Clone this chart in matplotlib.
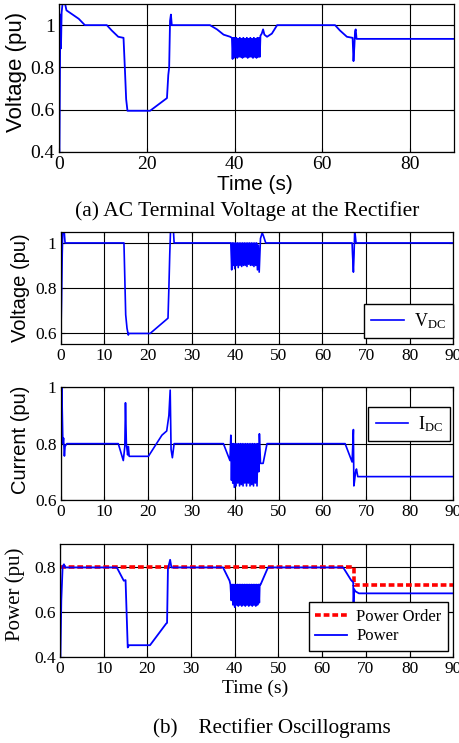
import matplotlib
matplotlib.use("Agg")
import matplotlib.pyplot as plt

plt.rcParams['mathtext.fontset'] = 'custom'
plt.rcParams['mathtext.rm'] = 'Liberation Serif'
plt.rcParams['mathtext.it'] = 'Liberation Serif:italic'

SERIF = 'Liberation Serif'
SANS = 'Liberation Sans'

# ---------------- (a) AC terminal voltage ----------------
ac_t = [0, 0.1, 0.3, 0.45, 0.6, 0.8, 1.0, 1.4, 1.7, 4.5, 5.9, 10.9, 12.0, 13.5, 14.7, 15.0, 15.3, 15.6,
        20.75, 24.6, 24.9, 25.1, 25.3, 25.5, 25.7, 26.1, 34.4, 36.0, 37.5, 39.0,
        39.4, 39.55, 39.7, 39.85, 40.0, 40.2, 40.4, 40.6, 40.8, 41.0, 41.2, 41.4, 41.6, 41.8,
        42.0, 42.2, 42.4, 42.6, 42.8, 43.0, 43.2, 43.4, 43.6, 43.8, 44.0, 44.2, 44.4, 44.6,
        44.8, 45.0, 45.2, 45.4, 45.6, 45.75,
        45.9, 46.2, 46.5, 46.8, 47.4, 48.5, 49.7, 62.9, 64.0, 65.6, 66.9, 67.1, 67.3, 67.45,
        67.6, 67.8, 68.2, 90]
ac_v = [0.4, 0.4, 1.05, 0.89, 1.06, 1.1, 1.1, 1.1, 1.07, 1.03, 1.0, 1.0, 0.975, 0.945, 0.94, 0.8, 0.65, 0.595,
        0.595, 0.655, 0.764, 0.8, 1.02, 1.05, 1.0, 1.0, 1.0, 0.98, 0.955, 0.945,
        0.94, 0.84, 0.94, 0.845, 0.94, 0.85, 0.94, 0.845, 0.935, 0.85, 0.94, 0.85, 0.935, 0.845,
        0.94, 0.85, 0.935, 0.85, 0.94, 0.845, 0.935, 0.85, 0.94, 0.85, 0.935, 0.845, 0.94, 0.85,
        0.935, 0.845, 0.94, 0.85, 0.94, 0.85,
        0.95, 0.96, 0.98, 0.955, 0.945, 0.96, 1.0, 1.0, 0.975, 0.945, 0.94, 0.83, 0.9, 0.97,
        0.98, 0.935, 0.935, 0.935]

# ---------------- (b) DC voltage ----------------
vdc_t = [0, 0.2, 0.35, 0.5, 0.7, 1.0, 14.5, 14.9, 15.2, 15.5, 15.6, 20.5, 24.3, 24.6, 24.8, 25.0, 25.2,
         25.8, 26.0, 39.0,
         39.2, 39.35, 39.5, 39.7, 39.9, 40.1, 40.3, 40.5, 40.7, 40.9, 41.1, 41.3, 41.5, 41.7, 41.9,
         42.1, 42.3, 42.5, 42.7, 42.9, 43.1, 43.3, 43.5, 43.7, 43.9, 44.1, 44.3, 44.5, 44.7, 44.9,
         45.1, 45.3,
         45.5, 45.8, 46.2, 46.5, 47.0, 66.8, 66.9, 67.1, 67.25, 67.4, 67.7, 90]
vdc_v = [0.55, 0.75, 0.95, 1.07, 1.08, 1.0, 1.0, 0.68, 0.62, 0.59, 0.597, 0.597, 0.66, 0.665, 0.8, 0.95, 1.07,
         1.07, 1.0, 1.0,
         0.88, 1.0, 0.9, 1.0, 0.885, 1.0, 0.9, 1.0, 0.89, 1.0, 0.9, 1.0, 0.895, 1.0, 0.9,
         1.0, 0.9, 1.0, 0.895, 1.0, 0.905, 1.0, 0.9, 1.0, 0.9, 1.0, 0.895, 1.0, 0.9, 1.0,
         0.88, 0.99,
         0.87, 1.02, 1.045, 1.03, 1.0, 1.0, 0.95, 0.87, 0.95, 1.06, 1.0, 1.0]

# ---------------- (b) DC current ----------------
idc_t = [0, 0.1, 0.25, 0.5, 0.65, 0.85, 1.0, 1.4, 13.2, 14.35, 14.7, 14.85, 15.05, 15.35, 15.5, 15.7,
         20.1, 23.2, 24.3, 24.8, 25.1, 25.3, 25.6, 26.0, 37.3, 38.8,
         39.0, 39.15, 39.3, 39.45, 39.6, 39.8, 40.0, 40.2, 40.4, 40.6, 40.8, 41.0, 41.2, 41.4,
         41.6, 41.8, 42.0, 42.2, 42.4, 42.6, 42.8, 43.0, 43.2, 43.4, 43.6, 43.8, 44.0, 44.2,
         44.4, 44.6, 44.8, 45.0, 45.2, 45.4, 45.55,
         45.8, 46.4, 47.3, 65.2, 66.8, 67.1, 67.2, 67.3, 67.6, 67.8, 68.1, 90]
idc_v = [0.6, 0.9, 1.0, 0.8, 0.82, 0.756, 0.79, 0.8, 0.8, 0.74, 0.79, 0.945, 0.8, 0.76, 0.79, 0.755,
         0.755, 0.83, 0.845, 0.9, 0.99, 0.78, 0.75, 0.8, 0.8, 0.74,
         0.83, 0.67, 0.8, 0.66, 0.8, 0.645, 0.8, 0.65, 0.8, 0.66, 0.8, 0.65, 0.8, 0.655,
         0.8, 0.65, 0.8, 0.66, 0.8, 0.65, 0.8, 0.66, 0.8, 0.65, 0.8, 0.655, 0.8, 0.65,
         0.8, 0.66, 0.8, 0.65, 0.8, 0.7, 0.835,
         0.73, 0.73, 0.8, 0.8, 0.735, 0.85, 0.65, 0.66, 0.7, 0.71, 0.683, 0.683]

# ---------------- (b) Power ----------------
order_t = [0, 67.3, 67.3, 90]
order_v = [0.8, 0.8, 0.72, 0.72]

pw_t = [0, 0.1, 0.3, 0.6, 0.9, 1.2, 13.0, 14.6, 15.0, 15.5, 15.8, 20.6, 24.3, 24.5, 24.7, 25.2, 25.5,
        37.3, 38.8,
        39.0, 39.2, 39.4, 39.6, 39.8, 40.0, 40.2, 40.4, 40.6, 40.8, 41.0, 41.2, 41.4, 41.6, 41.8,
        42.0, 42.2, 42.4, 42.6, 42.8, 43.0, 43.2, 43.4, 43.6, 43.8, 44.0, 44.2, 44.4, 44.6, 44.8,
        45.0, 45.2, 45.4, 45.6, 45.7,
        45.9, 47.6, 64.8, 66.6, 67.1, 67.15, 67.3, 67.6, 68.4, 90]
pw_v = [0.4, 0.4, 0.65, 0.8, 0.81, 0.796, 0.796, 0.737, 0.74, 0.441, 0.451, 0.451, 0.547, 0.55, 0.79, 0.83, 0.796,
        0.796, 0.737,
        0.72, 0.65, 0.72, 0.63, 0.72, 0.62, 0.72, 0.63, 0.72, 0.625, 0.72, 0.63, 0.72, 0.625, 0.72,
        0.63, 0.72, 0.625, 0.72, 0.63, 0.72, 0.625, 0.72, 0.63, 0.72, 0.625, 0.72, 0.63, 0.72, 0.625,
        0.72, 0.63, 0.72, 0.64, 0.72,
        0.72, 0.796, 0.796, 0.74, 0.73, 0.6, 0.7, 0.69, 0.681, 0.681]

BLUE = '#0000ff'
W, H = 460, 743
fig = plt.figure(figsize=(W / 100, H / 100), dpi=100)


def make_ax(l, r, t, b):
    return fig.add_axes([l / W, 1 - b / H, (r - l) / W, (b - t) / H])


def style(ax, tick_size):
    ax.grid(True, color='black', linewidth=0.8)
    ax.set_axisbelow(True)
    ax.tick_params(direction='in', top=True, right=True, length=3, width=0.8,
                   labelsize=tick_size, pad=3)
    for lab in ax.get_xticklabels() + ax.get_yticklabels():
        lab.set_fontfamily(SERIF)
    for s in ax.spines.values():
        s.set_linewidth(0.9)
        s.set_color('black')


def legend(ax, size, hl, **kw):
    leg = ax.legend(borderaxespad=0, prop={'family': SERIF, 'size': size}, fancybox=False,
                    framealpha=1, edgecolor='black', handlelength=hl, handletextpad=0.55, **kw)
    leg.get_frame().set_linewidth(1.0)
    return leg


# (a)
ax1 = make_ax(59, 454, 4, 152)
ax1.plot(ac_t, ac_v, color=BLUE, lw=1.3)
ax1.set_xlim(0, 90)
ax1.set_ylim(0.4, 1.1)
ax1.set_xticks([0, 20, 40, 60, 80])
ax1.set_yticks([0.4, 0.6, 0.8, 1.0])
ax1.set_yticklabels(['0.4', '0.6', '0.8', '1'])
style(ax1, 14)
ax1.set_ylabel('Voltage (pu)', fontfamily=SANS, fontsize=16)
ax1.yaxis.set_label_coords(-0.081, 0.54)
ax1.set_xlabel('Time (s)', fontfamily=SANS, fontsize=15)
ax1.xaxis.set_label_coords(0.496, -0.155)
fig.text(247 / W, 1 - 211 / H, '(a) AC Terminal Voltage at the Rectifier', fontfamily=SERIF,
         fontsize=15.5, ha='center', va='center')

# VDC
ax2 = make_ax(60.7, 453.3, 231.7, 344)
ax2.plot(vdc_t, vdc_v, color=BLUE, lw=1.2, label=r'V$_{\mathrm{DC}}$')
ax2.set_xlim(0, 90)
ax2.set_ylim(0.55, 1.05)
ax2.set_xticks(range(0, 91, 10))
ax2.set_yticks([0.6, 0.8, 1.0])
ax2.set_yticklabels(['0.6', '0.8', '1'])
style(ax2, 12.5)
ax2.set_ylabel('Voltage (pu)', fontfamily=SANS, fontsize=14.5)
ax2.yaxis.set_label_coords(-0.078, 0.503)
legend(ax2, 13, 1.8, loc='lower right', bbox_to_anchor=(0.999, 0.053))

# IDC
ax3 = make_ax(60.7, 453.3, 387.3, 500)
ax3.plot(idc_t, idc_v, color=BLUE, lw=1.2, label=r'I$_{\mathrm{DC}}$')
ax3.set_xlim(0, 90)
ax3.set_ylim(0.6, 1.0)
ax3.set_xticks(range(0, 91, 10))
ax3.set_yticks([0.6, 0.8, 1.0])
ax3.set_yticklabels(['0.6', '0.8', '1'])
style(ax3, 12.5)
ax3.set_ylabel('Current (pu)', fontfamily=SANS, fontsize=14.5)
ax3.yaxis.set_label_coords(-0.078, 0.53)
legend(ax3, 13, 1.8, loc='upper right', bbox_to_anchor=(0.992, 0.828))

# Power
ax4 = make_ax(60, 453.3, 544, 656.7)
ax4.plot(order_t, order_v, color='#ff0000', lw=2.6, ls=(0, (1.6, 0.8)), label='Power Order')
ax4.plot(pw_t, pw_v, color=BLUE, lw=1.3, label='Power')
ax4.set_xlim(0, 90)
ax4.set_ylim(0.4, 0.9)
ax4.set_xticks(range(0, 91, 10))
ax4.set_yticks([0.4, 0.6, 0.8])
style(ax4, 12.5)
ax4.set_ylabel('Power (pu)', fontfamily=SERIF, fontsize=15)
ax4.yaxis.set_label_coords(-0.089, 0.556)
ax4.set_xlabel('Time (s)', fontfamily=SERIF, fontsize=14)
ax4.xaxis.set_label_coords(0.497, -0.2)
legend(ax4, 12, 1.9, loc='lower right', bbox_to_anchor=(0.987, 0.05), labelspacing=0.2)

fig.text(272 / W, 1 - 728 / H, '(b)    Rectifier Oscillograms', fontfamily=SERIF,
         fontsize=15.2, ha='center', va='center')

fig.savefig('out.png', dpi=100)
